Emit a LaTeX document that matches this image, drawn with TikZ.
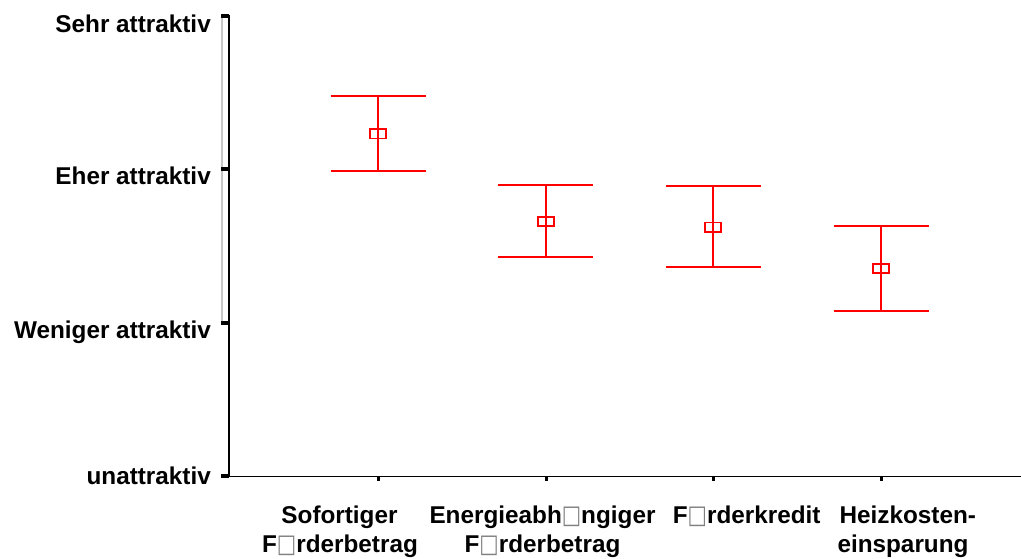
\documentclass[tikz,border=0pt]{standalone}
\usepackage{fontspec}
\usepackage{graphicx}
\setmainfont{Liberation Sans}
\newfontfamily\symfam{DejaVu Sans}
\newcommand\miss{{\symfam\fontsize{20.5}{20.5}\selectfont\color{gray}\raisebox{-0.3pt}{\scalebox{1}[1.25]{□}}}}
\newcommand\labfont{\fontsize{24.3}{29}\selectfont\bfseries}
\tikzset{
  errbar/.style={red, line width=1.8pt},
  axisline/.style={black, line width=1.6pt},
  ytick/.style={black, line width=4pt},
  xtick/.style={black, line width=3pt},
  lab/.style={font=\labfont, inner sep=0pt},
}
\begin{document}
\begin{tikzpicture}[x=1pt,y=-1pt]
\useasboundingbox (0,0) rectangle (1021,559);
% axes
\coordinate (ytop) at (228.8,15);
\coordinate (orig) at (228.8,476.5);
\coordinate (xend) at (1021,476.5);
\draw[gray!45, line width=2pt] (222,15) -- (222,322);
\draw[axisline] (ytop) -- (orig) -- (xend);
\foreach \y/\n in {16.5/a,169.5/b,323/c,476.3/d}{
  \coordinate (yt\n) at (221,\y);
  \draw[ytick] (yt\n) -- ++(7.8,0);
}
\foreach \x/\n in {378.3/a,546/b,713.3/c,881/d}{
  \coordinate (xt\n) at (\x,476.7);
  \draw[xtick] (xt\n) -- ++(0,4);
}
% y labels
\node[lab, anchor=base east] (ylA) at (211,33) {Sehr attraktiv};
\node[lab, anchor=base east] (ylB) at (211,185) {Eher attraktiv};
\node[lab, anchor=base east] (ylC) at (211,338) {Weniger attraktiv};
\node[lab, anchor=base east] (ylD) at (211,484) {unattraktiv};
% x labels
\node[lab, anchor=base] (xa1) at (339.5,523) {Sofortiger};
\node[lab, anchor=base] (xa2) at (340,552) {F\miss rderbetrag};
\node[lab, anchor=base] (xb1) at (542.5,523) {Energieabh\miss ngiger};
\node[lab, anchor=base] (xb2) at (542.5,552) {F\miss rderbetrag};
\node[lab, anchor=base] (xc1) at (746.7,523) {F\miss rderkredit};
\node[lab, anchor=base] (xd1) at (907.8,523) {Heizkosten-};
\node[lab, anchor=base] (xd2) at (903,552) {einsparung};
% error bars
\foreach \x/\t/\m/\b in {378/95.7/134/170.7, 545.7/184.7/221.3/256.7, 713.3/186/227.2/267.3, 881/225.7/268.5/311}{
  \draw[errbar] (\x-47.5,\t) -- (\x+47.5,\t);
  \draw[errbar] (\x-47.5,\b) -- (\x+47.5,\b);
  \draw[errbar] (\x,\t) -- (\x,\b);
  \draw[errbar] (\x-8,\m-4.6) rectangle (\x+8,\m+4.6);
}
\end{tikzpicture}
\end{document}
